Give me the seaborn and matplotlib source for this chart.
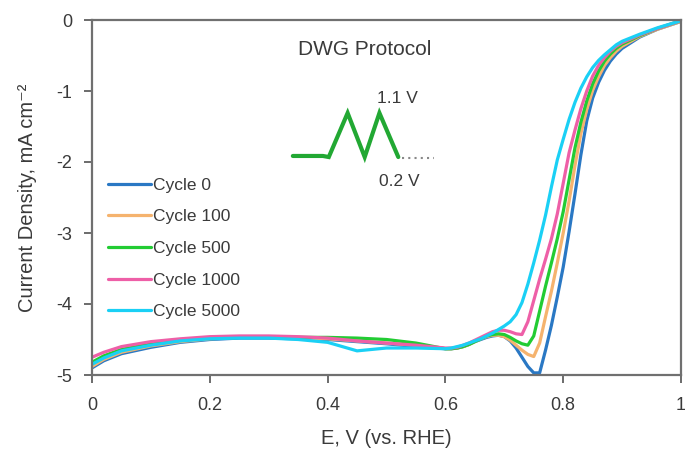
import numpy as np
import pandas as pd
import matplotlib
matplotlib.use("Agg")
import matplotlib.pyplot as plt
import seaborn as sns

# potential grid (V vs RHE)
E = [0.00, 0.02, 0.05, 0.10, 0.15, 0.20, 0.25, 0.30, 0.35, 0.40, 0.45, 0.50, 0.55,
     0.60, 0.61, 0.62, 0.63, 0.64, 0.65, 0.66, 0.67, 0.68, 0.69, 0.70, 0.71, 0.72,
     0.73, 0.74, 0.75, 0.76, 0.77, 0.78, 0.79, 0.80, 0.81, 0.82, 0.83, 0.84, 0.85,
     0.86, 0.87, 0.88, 0.89, 0.90, 0.93, 0.96, 1.00]

cycle0 = [-4.90, -4.80, -4.70, -4.61, -4.54, -4.50, -4.48, -4.48, -4.49, -4.50, -4.53, -4.56, -4.60,
          -4.63, -4.63, -4.62, -4.60, -4.57, -4.53, -4.50, -4.47, -4.45, -4.44, -4.46, -4.52, -4.62,
          -4.75, -4.88, -4.97, -4.97, -4.65, -4.30, -3.90, -3.48, -2.98, -2.45, -1.90, -1.42, -1.10,
          -0.88, -0.71, -0.58, -0.48, -0.40, -0.24, -0.13, -0.02]
cycle100 = [-4.88, -4.78, -4.68, -4.59, -4.53, -4.49, -4.47, -4.47, -4.48, -4.49, -4.52, -4.55, -4.58,
            -4.63, -4.63, -4.62, -4.60, -4.57, -4.53, -4.49, -4.46, -4.44, -4.44, -4.46, -4.51, -4.58,
            -4.65, -4.71, -4.74, -4.55, -4.18, -3.82, -3.42, -3.00, -2.55, -2.05, -1.60, -1.26, -0.99,
            -0.80, -0.64, -0.53, -0.44, -0.37, -0.23, -0.13, -0.02]
cycle500 = [-4.82, -4.73, -4.64, -4.56, -4.51, -4.48, -4.47, -4.47, -4.47, -4.47, -4.48, -4.50, -4.55,
            -4.63, -4.63, -4.62, -4.60, -4.57, -4.53, -4.49, -4.45, -4.43, -4.42, -4.43, -4.47, -4.52,
            -4.56, -4.58, -4.45, -4.10, -3.75, -3.42, -3.08, -2.70, -2.25, -1.80, -1.44, -1.14, -0.90,
            -0.72, -0.58, -0.48, -0.40, -0.34, -0.22, -0.12, -0.01]
cycle1000 = [-4.75, -4.68, -4.60, -4.53, -4.49, -4.46, -4.45, -4.45, -4.46, -4.48, -4.52, -4.55, -4.58,
             -4.62, -4.62, -4.61, -4.58, -4.55, -4.51, -4.47, -4.43, -4.39, -4.37, -4.37, -4.39, -4.42,
             -4.43, -4.25, -3.95, -3.65, -3.37, -3.08, -2.73, -2.30, -1.87, -1.55, -1.25, -1.00, -0.79,
             -0.64, -0.53, -0.44, -0.37, -0.32, -0.21, -0.12, -0.01]
cycle5000 = [-4.85, -4.76, -4.66, -4.58, -4.52, -4.49, -4.48, -4.48, -4.50, -4.54, -4.66, -4.62, -4.62,
             -4.63, -4.62, -4.60, -4.58, -4.55, -4.52, -4.49, -4.45, -4.41, -4.36, -4.31, -4.25, -4.15,
             -3.98, -3.72, -3.42, -3.10, -2.75, -2.35, -1.97, -1.68, -1.40, -1.16, -0.96, -0.80, -0.67,
             -0.57, -0.49, -0.42, -0.35, -0.30, -0.20, -0.11, -0.01]

labels = ["Cycle 0", "Cycle 100", "Cycle 500", "Cycle 1000", "Cycle 5000"]
colors = ["#2a78c4", "#f5b36e", "#22cc33", "#ee5fa7", "#1ad0f5"]

# inset: DWG potential waveform sketch (drawn in data coordinates)
wave_x = [0.341, 0.392, 0.402, 0.434, 0.463, 0.488, 0.520]
wave_y = [-1.915, -1.915, -1.93, -1.31, -1.93, -1.31, -1.93]
hold_x = [0.527, 0.581]
hold_y = [-1.945, -1.945]

df = pd.concat([pd.DataFrame({"E": E, "j": v, "cycle": lab})
                for v, lab in zip([cycle0, cycle100, cycle500, cycle1000, cycle5000], labels)])

sns.set_theme(style="white")
plt.rcParams["font.family"] = ["Liberation Sans", "DejaVu Sans"]
plt.rcParams["axes.unicode_minus"] = False

fig = plt.figure(figsize=(6.85, 4.5), dpi=100)
ax = fig.add_axes([92 / 685, 1 - 375 / 450, 589 / 685, 355 / 450])

sns.lineplot(data=df, x="E", y="j", hue="cycle", palette=dict(zip(labels, colors)),
             sort=False, estimator=None, lw=2.3, ax=ax)

ax.plot(wave_x, wave_y, color="#22a833", lw=3, solid_joinstyle="miter")
ax.plot(hold_x, hold_y, color="#888888", lw=1.5, ls=(0, (1, 2)))

txt = "#3a3a3a"
ax.text(0.463, -0.42, "DWG Protocol", ha="center", va="center", fontsize=15, color=txt)
ax.text(0.519, -1.10, "1.1 V", ha="center", va="center", fontsize=12.5, color=txt)
ax.text(0.522, -2.28, "0.2 V", ha="center", va="center", fontsize=12.5, color=txt)

ax.set_xlim(0, 1)
ax.set_ylim(-5, 0)
ax.set_xticks(np.arange(0, 1.01, 0.2))
ax.set_yticks(np.arange(-5, 0.1, 1))
ax.set_xticklabels([f"{v:g}" for v in np.arange(0, 1.01, 0.2)])
ax.set_yticklabels([f"{int(v)}" for v in np.arange(-5, 0.1, 1)])
ax.tick_params(direction="out", length=6, width=1.3, color="#606060",
               labelsize=13, labelcolor=txt, bottom=True, left=True)
ax.tick_params(axis="x", pad=10)
ax.tick_params(axis="y", pad=8)
for s in ax.spines.values():
    s.set_color("#707070")
    s.set_linewidth(1.6)

ax.set_xlabel("E, V (vs. RHE)", fontsize=14.5, color=txt, labelpad=11)
ax.set_ylabel("Current Density, mA cm⁻²", fontsize=14.5, color=txt, labelpad=14)

leg = ax.legend(loc="upper left", bbox_to_anchor=(0.0, 0.60), frameon=False,
                fontsize=12.5, handlelength=2.5, handletextpad=0.1, labelspacing=0.95)
for line in leg.get_lines():
    line.set_linewidth(2.3)
for t in leg.get_texts():
    t.set_color(txt)

fig.savefig("out.png", dpi=100)
